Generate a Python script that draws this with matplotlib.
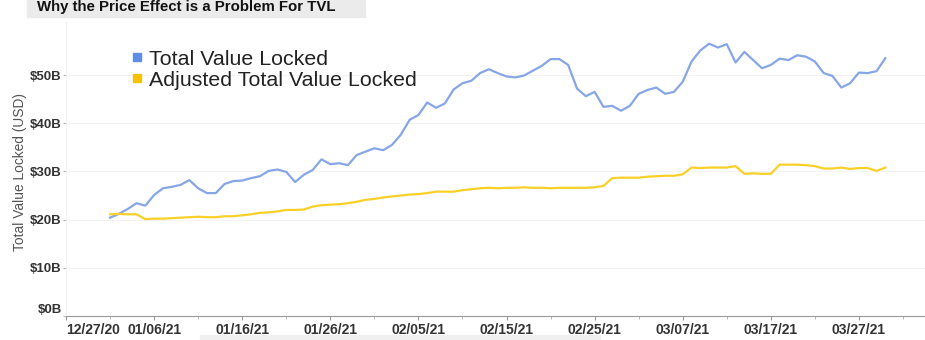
import matplotlib
matplotlib.use("Agg")
import matplotlib.pyplot as plt
from matplotlib.patches import Rectangle
from matplotlib.lines import Line2D
import pandas as pd

plt.rcParams['font.family'] = ['Liberation Sans', 'DejaVu Sans']

start_date = "2021-01-01"
tvl = [20.4, 21.2, 22.2, 23.4, 22.9, 25.1, 26.5, 26.8, 27.2, 28.2,
       26.5, 25.5, 25.5, 27.4, 28.0, 28.1, 28.6, 29.0, 30.1, 30.4,
       29.9, 27.8, 29.3, 30.3, 32.5, 31.5, 31.7, 31.3, 33.4, 34.1,
       34.8, 34.4, 35.5, 37.6, 40.7, 41.7, 44.3, 43.2, 44.1, 47.0,
       48.3, 48.8, 50.4, 51.2, 50.4, 49.7, 49.5, 49.9, 50.9, 51.9,
       53.3, 53.3, 52.1, 47.2, 45.6, 46.5, 43.4, 43.6, 42.6, 43.6,
       46.1, 46.9, 47.4, 46.1, 46.5, 48.6, 52.8, 55.1, 56.5, 55.7,
       56.4, 52.6, 54.8, 53.1, 51.4, 52.1, 53.4, 53.1, 54.1, 53.8,
       52.8, 50.4, 49.8, 47.4, 48.3, 50.5, 50.4, 50.8, 53.5]
adj_tvl = [21.1, 21.2, 21.1, 21.1, 20.1, 20.2, 20.2, 20.3, 20.4, 20.5,
           20.6, 20.5, 20.5, 20.7, 20.7, 20.9, 21.1, 21.4, 21.5, 21.7,
           22.0, 22.0, 22.1, 22.7, 23.0, 23.1, 23.2, 23.4, 23.7, 24.1,
           24.3, 24.6, 24.8, 25.0, 25.2, 25.3, 25.5, 25.8, 25.8, 25.8,
           26.1, 26.3, 26.5, 26.6, 26.5, 26.6, 26.6, 26.7, 26.6, 26.6,
           26.5, 26.6, 26.6, 26.6, 26.6, 26.7, 27.0, 28.6, 28.7, 28.7,
           28.7, 28.9, 29.0, 29.1, 29.1, 29.4, 30.8, 30.7, 30.8, 30.8,
           30.8, 31.1, 29.5, 29.6, 29.5, 29.5, 31.4, 31.4, 31.4, 31.3,
           31.1, 30.6, 30.6, 30.8, 30.5, 30.7, 30.7, 30.1, 30.8]
yticks = [0, 10, 20, 30, 40, 50]
ytick_labels = ["$0B", "$10B", "$20B", "$30B", "$40B", "$50B"]
tick_start = "2020-12-27"
n_ticks = 10
series_names = ["Total Value Locked", "Adjusted Total Value Locked"]
title = "Why the Price Effect is a Problem For TVL"
ylabel = "Total Value Locked (USD)"

dates = pd.date_range(start_date, periods=len(tvl), freq="D")
tick_dates = pd.date_range(tick_start, periods=n_ticks, freq="10D")
minor_dates = pd.date_range(tick_start, periods=2 * n_ticks, freq="5D")

W, H = 925, 340
fig = plt.figure(figsize=(W / 100, H / 100), dpi=100)
L, R, B, T = 66, 925, 316, 22
ax = fig.add_axes([L / W, 1 - B / H, (R - L) / W, (B - T) / H])

blue = "#87A6E6"
yellow = "#F9D028"
ax.plot(dates, tvl, color=blue, lw=1.6, solid_joinstyle="round")
ax.plot(dates, adj_tvl, color=yellow, lw=1.6, solid_joinstyle="round")

ax.set_yticks(yticks)
ax.set_yticklabels(ytick_labels)
ax.set_xticks(tick_dates)
ax.set_xticklabels([d.strftime("%m/%d/%y") for d in tick_dates])
ax.set_xticks(minor_dates, minor=True)

x0 = pd.Timestamp(tick_start)
ax.set_xlim(x0, x0 + pd.Timedelta(days=97.5))
ax.set_ylim(0, 61)

for lab in ax.get_yticklabels():
    lab.set_fontweight("bold")
for lab in ax.get_xticklabels():
    lab.set_fontweight("bold")
ax.get_yticklabels()[0].set_verticalalignment("bottom")
ax.get_xticklabels()[0].set_horizontalalignment("left")

ax.tick_params(axis="y", labelsize=9.5, labelcolor="#333333", length=2,
               color="#bbbbbb", pad=1)
ax.tick_params(axis="x", which="major", labelsize=10, labelcolor="#333333",
               length=3, color="#999999", pad=2)
ax.tick_params(axis="x", which="minor", length=2.5, color="#aaaaaa")

ax.grid(axis="y", color="#f3f3f3", lw=0.8)
ax.set_axisbelow(True)
for s in ["top", "right"]:
    ax.spines[s].set_visible(False)
ax.spines["left"].set_color("#f0f0f0")
ax.spines["bottom"].set_color("#999999")
ax.spines["bottom"].set_linewidth(0.8)

ax.set_ylabel(ylabel, fontsize=9.9, color="#555555")
ax.yaxis.set_label_coords(-0.045, 0.49)

handles = [Line2D([], [], ls="none", marker="s", ms=5.5, color="#5E8DE6"),
           Line2D([], [], ls="none", marker="s", ms=5.5, color="#F5C400")]
ax.legend(handles, series_names, loc="upper left", bbox_to_anchor=(0.063, 0.934),
          frameon=False, fontsize=15.4, handletextpad=0.15, labelspacing=0.08,
          handlelength=0.8, borderaxespad=0, labelcolor="#222222")

fig.patches.append(Rectangle((27 / W, 1 - 17 / H), (365 - 27) / W, 17 / H,
                             transform=fig.transFigure, color="#ebebeb", zorder=0))
fig.text(37 / W, 1 - 7 / H, title, fontsize=10.8, fontweight="bold",
         color="#111111", va="center", ha="left")
fig.patches.append(Rectangle((200 / W, 0), (600 - 200) / W, 5 / H,
                             transform=fig.transFigure, color="#f0f0f0", zorder=0))

fig.savefig("out.png", dpi=100)
